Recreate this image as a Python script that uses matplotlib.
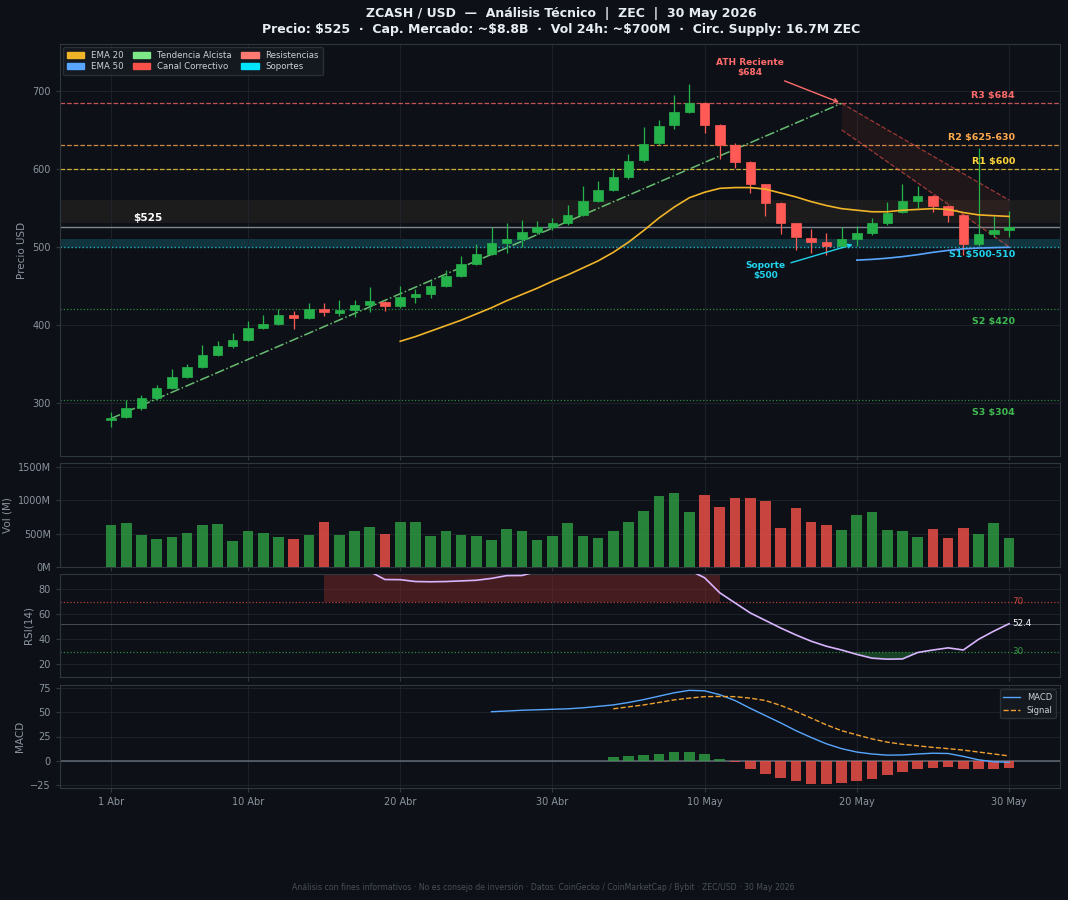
import matplotlib
matplotlib.use("Agg")
import matplotlib.pyplot as plt
from matplotlib.patches import Patch
import numpy as np

# ---------------- data ----------------
x_labels = ["1 Abr", "10 Abr", "20 Abr", "30 Abr", "10 May", "20 May", "30 May"]
x_label_days = [0, 9, 19, 29, 39, 49, 59]

opens = [278, 282, 293, 306, 319, 333, 346, 361, 373, 381, 396, 401, 413, 409, 421,
         415, 419, 425, 430, 424, 436, 439, 450, 463, 478, 491, 505, 510, 519, 525,
         530, 541, 559, 573, 590, 611, 633, 656, 673, 684, 656, 631, 609, 580, 556,
         530, 512, 506, 501, 510, 518, 530, 545, 559, 565, 553, 541, 504, 516, 521]
highs = [288, 304, 310, 323, 343, 350, 374, 379, 389, 405, 413, 421, 418, 428, 428,
         432, 432, 448, 431, 450, 446, 456, 471, 488, 504, 526, 531, 535, 533, 537,
         554, 578, 585, 601, 619, 654, 663, 695, 709, 686, 657, 633, 610, 581, 557,
         531, 523, 518, 525, 527, 537, 557, 580, 578, 566, 554, 542, 627, 539, 546]
lows = [269, 281, 291, 304, 318, 332, 345, 360, 370, 380, 395, 400, 395, 408, 411,
        411, 410, 416, 418, 422, 428, 434, 449, 462, 477, 489, 492, 500, 517, 522,
        528, 539, 557, 571, 587, 609, 631, 651, 671, 646, 612, 601, 569, 540, 517,
        496, 492, 490, 499, 501, 515, 528, 543, 550, 545, 532, 490, 501, 513, 513]
closes = [281, 293, 306, 319, 333, 346, 361, 373, 381, 396, 401, 413, 409, 421, 416,
          419, 425, 431, 424, 436, 439, 450, 463, 478, 491, 505, 510, 519, 525, 530,
          541, 559, 573, 590, 610, 632, 655, 673, 684, 656, 631, 609, 581, 556, 530,
          513, 506, 501, 510, 518, 530, 544, 559, 565, 553, 541, 504, 516, 521, 525]
volumes = [625, 660, 485, 425, 455, 515, 635, 645, 395, 545, 515, 455, 425, 485, 670,
           485, 545, 600, 500, 675, 675, 465, 535, 480, 470, 400, 570, 535, 410, 470,
           655, 460, 435, 535, 680, 835, 1060, 1110, 825, 1085, 895, 1035, 1035, 985, 585,
           885, 680, 625, 560, 785, 825, 550, 545, 455, 575, 440, 590, 500, 665, 430]

ema20_start = 19
ema20 = [379, 385, 392, 399, 406, 414, 422, 431, 439, 447, 456, 464, 473, 482, 493,
         506, 521, 537, 551, 563, 570, 575, 576, 576, 574, 569, 564, 558, 553, 549,
         547, 545, 545, 547, 548, 549, 548, 544, 541, 540, 539]
ema50_start = 49
ema50 = [483, 484, 485.5, 487.5, 490, 493, 495.5, 497.5, 498.5, 499, 499.5]

rsi_start = 14
rsi = [95, 95, 95, 94, 87.6, 87.5, 86, 85.8, 86, 86.5, 87, 88.5, 90.7, 90.8, 94,
       95, 96, 96, 96, 96, 96, 96, 96, 96, 95, 89, 77, 69, 61, 55,
       49, 43.5, 38.5, 34.5, 31.5, 28, 25, 24.2, 24.4, 29.5, 31.5, 33.2, 31.5, 40, 46.5, 52.4]

macd_start = 25
macd = [50.5, 51.2, 52, 52.5, 53, 53.5, 54.5, 56, 57.5, 60, 63, 66.5, 70, 72.5, 72,
        68, 62, 54, 46.5, 39, 31, 24, 17.5, 12.5, 9, 7, 5.8, 6, 7, 7.8,
        7.5, 4.5, 1, -1, -1.5]
signal_start = 33
signal = [53.5, 55.5, 57.5, 60, 62.7, 64.5, 66, 66.2, 66, 64.5, 62, 57, 50.7, 44,
          37, 31, 26.7, 22.5, 19.2, 17, 15.4, 13.8, 12.5, 11, 9, 7, 5]
hist = [4.1, 5.1, 6.2, 7.5, 8.6, 9.2, 6.5, 2.1, -1.5, -8.2, -13.4, -17.5, -21.2, -23.6,
        -24.3, -22.6, -20.9, -18.8, -14.7, -11.6, -8.2, -7.2, -6.5, -8.6, -8.9, -8.6, -7.2]

current_price = 525

# ---------------- style ----------------
BG = "#0d1117"
GRID = "#1f242c"
SPINE = "#30363d"
TXT = "#8b949e"
GREEN = "#2ea043"
GREEN_B = "#26b24a"
RED = "#f85149"
RED_B = "#ff5a55"
ORANGE = "#f0b429"
BLUE = "#58a6ff"
CYAN = "#22d3ee"

fig = plt.figure(figsize=(10.68, 9.0), dpi=100, facecolor=BG)
W, H = 1068.0, 900.0

def rect(l, t, r, b):
    return [l / W, 1 - b / H, (r - l) / W, (b - t) / H]

ax = fig.add_axes(rect(60, 44, 1060, 456))
axv = fig.add_axes(rect(60, 463, 1060, 567), sharex=ax)
axr = fig.add_axes(rect(60, 574, 1060, 677), sharex=ax)
axm = fig.add_axes(rect(60, 685, 1060, 788), sharex=ax)

for a in (ax, axv, axr, axm):
    a.set_facecolor(BG)
    for s in a.spines.values():
        s.set_color(SPINE)
        s.set_linewidth(0.8)
    a.tick_params(colors=TXT, labelsize=7, length=3, color=SPINE)
    a.grid(True, color=GRID, linewidth=0.6)
    a.set_axisbelow(True)

days = np.arange(len(closes))

# ---------------- main price ----------------
ax.axhspan(530, 560, color="#a08040", alpha=0.10, lw=0, zorder=0)
ax.axhspan(500, 510, color="#1aa3b8", alpha=0.25, lw=0, zorder=0)

ax.axhline(684, color="#ff6b6b", ls="--", lw=0.9, alpha=0.75, zorder=1)
ax.axhline(630, color="#ffa94d", ls="--", lw=0.9, alpha=0.8, zorder=1)
ax.axhline(600, color="#ffd43b", ls="--", lw=0.9, alpha=0.8, zorder=1)
ax.axhline(500, color=CYAN, ls=":", lw=1.0, alpha=0.8, zorder=1)
ax.axhline(420, color="#3fb950", ls=":", lw=0.9, alpha=0.7, zorder=1)
ax.axhline(304, color="#3fb950", ls=":", lw=0.9, alpha=0.7, zorder=1)
ax.axhline(current_price, color="#8b949e", ls="-", lw=1.0, alpha=0.9, zorder=1)

for d in days:
    o, h, l, c = opens[d], highs[d], lows[d], closes[d]
    col = GREEN_B if c >= o else RED_B
    ax.vlines(d, l, h, color=col, lw=0.9, zorder=3)
    bottom = min(o, c)
    height = max(abs(c - o), 1.2)
    ax.bar(d, height, bottom=bottom, width=0.62, color=col, edgecolor=col, lw=0.5, zorder=4)

# trend line (uptrend) from first day to ATH point
ax.plot([0, 48], [280, 684], color="#7ee787", ls="-.", lw=1.1, alpha=0.8, zorder=2)

# corrective channel
ch_x = np.array([48, 59])
ch_up = np.array([684, 560])
ch_lo = np.array([650, 500])
ax.plot(ch_x, ch_up, color=RED, ls="--", lw=0.9, alpha=0.6, zorder=2)
ax.plot(ch_x, ch_lo, color=RED, ls="--", lw=0.9, alpha=0.6, zorder=2)
ax.fill_between(ch_x, ch_lo, ch_up, color=RED, alpha=0.08, lw=0, zorder=1)

# EMAs
ax.plot(np.arange(ema20_start, ema20_start + len(ema20)), ema20, color=ORANGE, lw=1.2, zorder=5)
ax.plot(np.arange(ema50_start, ema50_start + len(ema50)), ema50, color=BLUE, lw=1.2, zorder=5)

# level labels
lab_x = 59.4
fs_lab = 6.8
ax.text(lab_x, 688, "R3 \\$684", color="#ff6b6b", fontsize=fs_lab, fontweight="bold", ha="right", va="bottom")
ax.text(lab_x, 634, "R2 \\$625-630", color="#ffa94d", fontsize=fs_lab, fontweight="bold", ha="right", va="bottom")
ax.text(lab_x, 604, "R1 \\$600", color="#ffd43b", fontsize=fs_lab, fontweight="bold", ha="right", va="bottom")
ax.text(lab_x, 496, "S1 \\$500-510", color=CYAN, fontsize=fs_lab, fontweight="bold", ha="right", va="top")
ax.text(lab_x, 404, "S2 \\$420", color="#3fb950", fontsize=fs_lab, fontweight="bold", ha="right", va="center")
ax.text(lab_x, 288, "S3 \\$304", color="#3fb950", fontsize=fs_lab, fontweight="bold", ha="right", va="center")

ax.text(1.45, 531, "\\$525", color="white", fontsize=7.6, fontweight="bold", ha="left", va="bottom")

ax.annotate("ATH Reciente\n\\$684", xy=(48, 684), xytext=(42, 730),
            color="#ff6b6b", fontsize=6.5, fontweight="bold", ha="center", va="center",
            arrowprops=dict(arrowstyle="->", color="#ff6b6b", lw=1.0))
ax.annotate("Soporte\n\\$500", xy=(48.9, 504), xytext=(43.0, 470),
            color=CYAN, fontsize=6.5, fontweight="bold", ha="center", va="center",
            arrowprops=dict(arrowstyle="->", color=CYAN, lw=1.0))

ax.set_ylim(232, 760)
ax.set_yticks([300, 400, 500, 600, 700])
ax.set_xlim(-3.35, 62.35)
ax.set_ylabel("Precio USD", color=TXT, fontsize=7.5)
plt.setp(ax.get_xticklabels(), visible=False)

legend_handles = [
    Patch(color=ORANGE, label="EMA 20"),
    Patch(color=BLUE, label="EMA 50"),
    Patch(color="#7ee787", label="Tendencia Alcista"),
    Patch(color=RED, label="Canal Correctivo"),
    Patch(color="#ff7b72", label="Resistencias"),
    Patch(color="#00e5ff", label="Soportes"),
]
ax.legend(handles=legend_handles, loc="upper left", ncol=3, fontsize=6.2,
          facecolor="#161b22", edgecolor=SPINE, labelcolor="#c9d1d9",
          handlelength=2.0, handleheight=0.7, columnspacing=1.1, borderpad=0.45,
          labelspacing=0.3, borderaxespad=0.35)

# ---------------- volume ----------------
vcols = [GREEN if closes[d] >= opens[d] else RED for d in days]
axv.bar(days, volumes, width=0.7, color=vcols, alpha=0.8, zorder=3)
axv.set_ylim(0, 1560)
axv.set_yticks([0, 500, 1000, 1500])
axv.set_yticklabels(["0M", "500M", "1000M", "1500M"])
axv.set_ylabel("Vol (M)", color=TXT, fontsize=7.5)
plt.setp(axv.get_xticklabels(), visible=False)

# ---------------- RSI ----------------
rsi_x = np.arange(rsi_start, rsi_start + len(rsi))
rsi_a = np.array(rsi)
axr.fill_between(rsi_x, 70, 100, where=rsi_a >= 70, color="#8b2a2a", alpha=0.45, lw=0, zorder=1)
axr.fill_between(rsi_x, rsi_a, 30, where=rsi_a <= 30, color="#2ea043", alpha=0.35, lw=0,
                 interpolate=True, zorder=1)
axr.axhline(70, color=RED, ls=":", lw=0.9, alpha=0.7)
axr.axhline(30, color="#3fb950", ls=":", lw=0.9, alpha=0.7)
axr.axhline(rsi[-1], color="#6e7681", ls="-", lw=0.7, alpha=0.6)
axr.plot(rsi_x, rsi_a, color="#d8b4fe", lw=1.2, zorder=3)
axr.text(59.2, 70, "70", color=RED, fontsize=6.3, va="center", ha="left", alpha=0.8)
axr.text(59.2, 30, "30", color="#3fb950", fontsize=6.3, va="center", ha="left", alpha=0.8)
axr.text(59.2, rsi[-1], "52.4", color="white", fontsize=6.3, va="center", ha="left")
axr.set_ylim(10, 92)
axr.set_yticks([20, 40, 60, 80])
axr.set_ylabel("RSI(14)", color=TXT, fontsize=7.5)
plt.setp(axr.get_xticklabels(), visible=False)

# ---------------- MACD ----------------
hx = np.arange(signal_start, signal_start + len(hist))
hcols = [GREEN if v >= 0 else RED for v in hist]
axm.bar(hx, hist, width=0.7, color=hcols, alpha=0.8, zorder=2)
axm.axhline(0, color="#6e7681", lw=1.2, alpha=0.8, zorder=1)
axm.plot(np.arange(macd_start, macd_start + len(macd)), macd, color=BLUE, lw=1.0, label="MACD", zorder=3)
axm.plot(np.arange(signal_start, signal_start + len(signal)), signal, color="#f0a030", lw=1.0,
         ls="--", label="Signal", zorder=3)
axm.set_ylim(-28, 78)
axm.set_yticks([-25, 0, 25, 50, 75])
axm.set_ylabel("MACD", color=TXT, fontsize=7.5)
axm.legend(loc="upper right", fontsize=6, facecolor="#161b22", edgecolor=SPINE, labelcolor="#c9d1d9")
axm.set_xticks(x_label_days)
axm.set_xticklabels(x_labels)

# ---------------- titles ----------------
fig.text(561 / W, 1 - 7 / H,
         "ZCASH / USD  —  Análisis Técnico  |  ZEC  |  30 May 2026\n"
         "Precio: \\$525  ·  Cap. Mercado: ~\\$8.8B  ·  Vol 24h: ~\\$700M  ·  Circ. Supply: 16.7M ZEC",
         ha="center", va="top", color="#e6edf3", fontsize=9, fontweight="bold", linespacing=1.25)
fig.text(543 / W, 1 - 887 / H,
         "Análisis con fines informativos · No es consejo de inversión · Datos: CoinGecko / CoinMarketCap / Bybit · ZEC/USD · 30 May 2026",
         ha="center", va="center", color="#484f58", fontsize=5.6)

fig.savefig("out.png", dpi=100, facecolor=BG)
